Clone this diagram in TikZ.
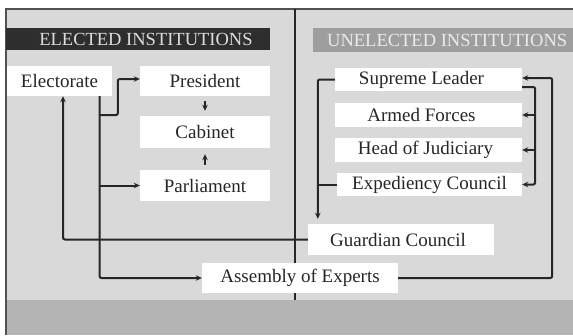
\documentclass[tikz,border=0pt]{standalone}
\usepackage{fontspec}
\setmainfont{Liberation Serif}
\usetikzlibrary{arrows.meta,calc}
\definecolor{bgray}{HTML}{D9D9D9}
\definecolor{band}{HTML}{B4B4B4}
\definecolor{ink}{HTML}{262626}
\definecolor{darkbar}{HTML}{2E2E2E}
\definecolor{lightbar}{HTML}{9E9E9E}
\begin{document}
\begin{tikzpicture}[x=1pt,y=-1pt,
  box/.style={fill=white,draw=none,inner sep=0pt,font=\fontsize{19}{22}\selectfont,text=ink},
  conn/.style={draw=ink,line width=2pt,rounded corners=2pt},
  arr/.style={conn,-{Stealth[length=6pt,width=5.5pt]}},
  hdr/.style={inner sep=0pt,font=\fontsize{18.5}{21}\selectfont}]
\useasboundingbox (0,0) rectangle (573,335);
% background
\fill[white] (0,0) rectangle (573,335);
\fill[bgray] (6,9) rectangle (573,300);
\fill[band] (6,300) rectangle (573,335);
\draw[ink!80,line width=1.2pt] (6,335) -- (6,9) -- (573,9);
% divider
\draw[ink,line width=2pt] (295,9) -- (295,300);
% header bars
\fill[darkbar] (6,28) rectangle (270,50);
\node[hdr,text=bgray!90] (hel) at (146,39.5) {ELECTED INSTITUTIONS};
\fill[lightbar] (313,28) rectangle (573,52);
\node[hdr,text=white!92!black,anchor=west] (hun) at (327,40) {UNELECTED INSTITUTIONS};
% boxes
\node[box,minimum width=105pt,minimum height=30pt] (elec) at (59.5,81) {Electorate};
\node[box,minimum width=130pt,minimum height=30pt] (pres) at (205,81) {President};
\node[box,minimum width=130pt,minimum height=32pt] (cab) at (205,132) {Cabinet};
\node[box,minimum width=130pt,minimum height=31pt] (parl) at (205,185.5) {Parliament};
\node[box,minimum width=187pt,minimum height=23pt] (sl) at (428.5,79.5) {Supreme Leader\hspace*{14pt}};
\node[box,minimum width=187pt,minimum height=24pt] (af) at (428.5,115) {Armed Forces\hspace*{14pt}};
\node[box,minimum width=187pt,minimum height=24pt] (hj) at (428.5,150) {Head of Judiciary\hspace*{6pt}};
\node[box,minimum width=185pt,minimum height=23pt] (ec) at (429.5,184.5) {Expediency Council};
\node[box,minimum width=186pt,minimum height=31pt] (gc) at (401,239.5) {Guardian Council\hspace*{6pt}};
\node[box,minimum width=196pt,minimum height=30pt] (assem) at (300,278) {Assembly of Experts};
% coordinates
\coordinate (ev) at ([xshift=40pt]elec.south);
\coordinate (j1) at ([yshift=-19pt]ev);
\coordinate (pk) at ([xshift=-22pt,yshift=2pt]pres.west);
\coordinate (es) at ([xshift=3.5pt]elec.south);
\coordinate (bx) at ([xshift=13pt]sl.east);
\coordinate (ax) at ([xshift=30pt]sl.east);
\coordinate (lx) at ([xshift=-17pt]sl.west);
% elected side connectors
\draw[arr] (ev) |- (assem.west);
\draw[arr] (j1) -| (pk) -- ([yshift=2pt]pres.west);
\draw[arr] (ev |- parl.west) -- (parl.west);
\draw[arr] (gc.west) -| (es);
\draw[arr,shorten <=5pt,shorten >=5pt] (pres) -- (cab);
\draw[arr,shorten <=5pt,shorten >=6pt] (parl) -- (cab);
% unelected side connectors
\draw[arr] ([yshift=-7.5pt]sl.east) -| (bx |- ec.east) -- (ec.east);
\draw[arr] (bx |- af.east) -- (af.east);
\draw[arr] (bx |- hj.east) -- (hj.east);
\draw[arr] (assem.east) -| ([yshift=1.5pt]ax |- sl.east) -- ([yshift=1.5pt]sl.east);
\draw[arr,shorten >=5pt] (sl.west) -| (lx |- gc.north);
\draw[conn] (ec.west) -- (lx |- ec.west);
\end{tikzpicture}
\end{document}
